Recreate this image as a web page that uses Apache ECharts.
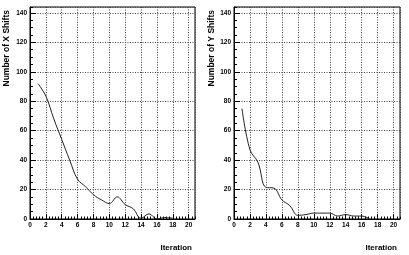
<!DOCTYPE html>
<html><head><meta charset="utf-8">
<script src="https://cdn.jsdelivr.net/npm/echarts@6/dist/echarts.min.js"></script>
<style>html,body{margin:0;padding:0;background:#fff}#c{width:409px;height:255px}</style>
</head><body><div id="c"></div>
<script>
const iterX = [1,2,3,4,5,6,7,8,9,10,11,12,13,14,15,16,17,18];
const xShifts = [92,83.5,68,54,40,27,22,16.5,13,10.5,15,9.8,7,0.5,3.5,0,1,0.5];
const iterY = [1,2,3,4,5,6,7,8,9,10,11,12,13,14,15,16,17];
const yShifts = [75,47,38.5,21.5,21,13,9,2.5,3,4,4,4,2,3,2,2,0];
const xTitle = 'Iteration';
const yTitles = ['Number of X Shifts','Number of Y Shifts'];

const FONT = "'Liberation Sans', Arial, sans-serif";
const XMAX = 20.8, YMAX = 144;
const grids = [
  {left:30, right:214, top:7, bottom:36},
  {left:234, right:9, top:7, bottom:36}
];
const xAxes = [], yAxes = [], series = [], graphics = [];
const datasets = [[iterX, xShifts],[iterY, yShifts]];
grids.forEach((g, i) => {
  g.show = true; g.borderColor = '#000'; g.borderWidth = 1; g.containLabel = false;
  xAxes.push({type:'value', gridIndex:i, position:'bottom', min:0, max:XMAX, interval:2,
    axisLine:{show:true, onZero:false, lineStyle:{color:'#000', width:1}},
    axisTick:{show:true, inside:true, length:5, lineStyle:{color:'#000'}},
    axisLabel:{show:true, showMaxLabel:false, margin:3, fontSize:6.5, fontWeight:'bold', fontFamily:FONT, color:'#000'},
    splitLine:{show:true, lineStyle:{color:'#444', width:1, type:[1,1.5]}}
  });
  xAxes.push({type:'value', gridIndex:i, position:'bottom', offset:0, min:0, max:XMAX, interval:0.4,
    axisLine:{show:false}, axisLabel:{show:false}, splitLine:{show:false},
    axisTick:{show:true, inside:true, length:2.5, lineStyle:{color:'#000'}}
  });
  yAxes.push({type:'value', gridIndex:i, position:'left', min:0, max:YMAX, interval:20,
    axisLine:{show:true, onZero:false, lineStyle:{color:'#000', width:1}},
    axisTick:{show:true, inside:true, length:6, lineStyle:{color:'#000'}},
    axisLabel:{show:true, showMaxLabel:false, margin:3, fontSize:6.5, fontWeight:'bold', fontFamily:FONT, color:'#000'},
    splitLine:{show:true, lineStyle:{color:'#444', width:1, type:[1,1.5]}}
  });
  yAxes.push({type:'value', gridIndex:i, position:'left', offset:0, min:0, max:YMAX, interval:5,
    axisLine:{show:false}, axisLabel:{show:false}, splitLine:{show:false},
    axisTick:{show:true, inside:true, length:3, lineStyle:{color:'#000'}}
  });
  const [xs, ys] = datasets[i];
  series.push({type:'line', xAxisIndex:i*2, yAxisIndex:i*2, data: xs.map((x,k)=>[x, ys[k]]),
    smooth:0.4, showSymbol:false, symbol:'none', lineStyle:{color:'#222', width:1}, silent:true});
  const x0 = i === 0 ? 0 : 205;
  graphics.push({type:'text', x: x0 + 192, y: 248, style:{text:xTitle, fill:'#000', font:"bold 8px " + FONT, textAlign:'right', textVerticalAlign:'middle'}});
  graphics.push({type:'text', x: x0 + 7, y: 10, rotation: Math.PI/2, style:{text:yTitles[i], fill:'#000', font:"bold 8.5px " + FONT, textAlign:'right', textVerticalAlign:'middle'}});
});

const chart = echarts.init(document.getElementById('c'), null, {renderer:'canvas'});
chart.setOption({
  animation:false,
  backgroundColor:'#fff',
  grid: grids, xAxis: xAxes, yAxis: yAxes, series: series, graphic: graphics
});
</script></body></html>
